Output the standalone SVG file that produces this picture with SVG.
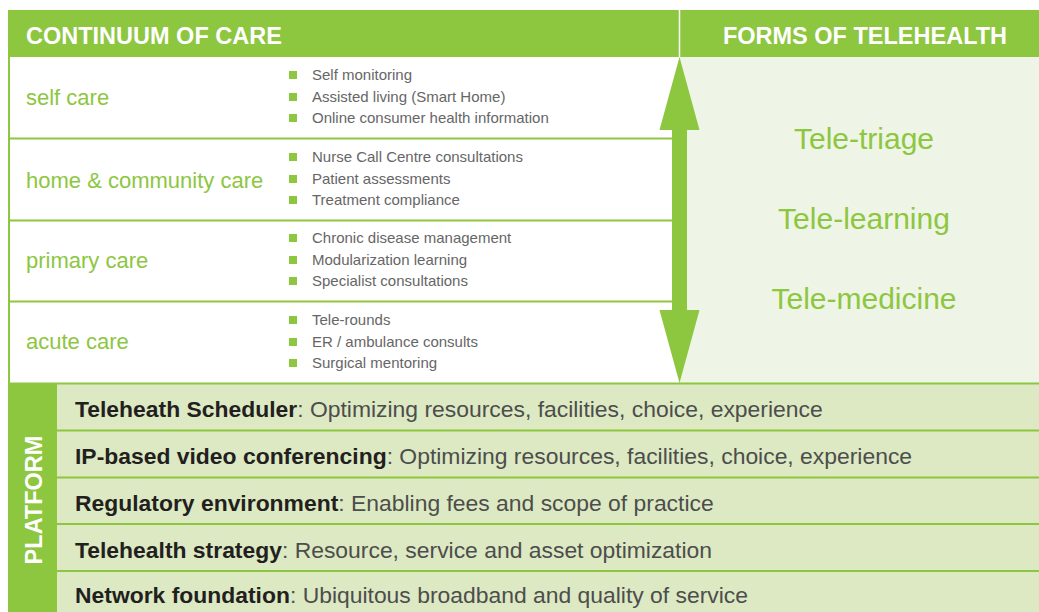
<svg xmlns="http://www.w3.org/2000/svg" width="1039" height="612" viewBox="0 0 1039 612">
<style>
.hdr{font-family:"Liberation Sans",Arial,sans-serif;font-weight:bold;font-size:23.5px;fill:#ffffff}
.lbl{font-family:"Liberation Sans",Arial,sans-serif;font-size:22px;fill:#8dc63f}
.itm{font-family:"Liberation Sans",Arial,sans-serif;font-size:15px;fill:#666666}
.bul{fill:#8dc63f}
.tele{font-family:"Liberation Sans",Arial,sans-serif;font-size:30px;fill:#8dc63f}
.sep{stroke:#8dc63f;stroke-width:2;fill:none}
.prow{fill:#dce9c2}
.pt{font-family:"Liberation Sans",Arial,sans-serif;font-size:22.9px;fill:#4d4d4d}
.pb{font-weight:bold;fill:#231f20}
</style>
<defs>
<rect id="sq" width="8" height="8" class="bul"/>
</defs>
<rect width="1039" height="612" fill="#ffffff"/>
<g id="header">
<rect x="8" y="10" width="1031" height="47" fill="#8dc63f"/>
<line x1="679.5" y1="10" x2="679.5" y2="57" stroke="#ffffff" stroke-width="1.5"/>
<text class="hdr" x="26" y="44">CONTINUUM OF CARE</text>
<text class="hdr" x="865" y="44" text-anchor="middle">FORMS OF TELEHEALTH</text>
</g>
<g id="panel-forms">
<rect x="679" y="57" width="360" height="326" fill="#eef5e6"/>
<text class="tele" x="864" y="149" text-anchor="middle">Tele-triage</text>
<text class="tele" x="864" y="229" text-anchor="middle">Tele-learning</text>
<text class="tele" x="864" y="309" text-anchor="middle">Tele-medicine</text>
</g>
<g id="continuum-frame">
<line class="sep" x1="9" y1="57" x2="9" y2="384"/>
<line class="sep" x1="9" y1="138.5" x2="672" y2="138.5"/>
<line class="sep" x1="9" y1="220.5" x2="672" y2="220.5"/>
<line class="sep" x1="9" y1="301.5" x2="672" y2="301.5"/>
</g>
<g id="self-care">
<text class="lbl" x="26" y="105">self care</text>
<use href="#sq" x="289" y="71"/><text class="itm" x="312" y="80">Self monitoring</text>
<use href="#sq" x="289" y="93"/><text class="itm" x="312" y="102">Assisted living (Smart Home)</text>
<use href="#sq" x="289" y="114"/><text class="itm" x="312" y="123">Online consumer health information</text>
</g>
<g id="home-community-care">
<text class="lbl" x="26" y="188">home &amp; community care</text>
<use href="#sq" x="289" y="153"/><text class="itm" x="312" y="162">Nurse Call Centre consultations</text>
<use href="#sq" x="289" y="175"/><text class="itm" x="312" y="184">Patient assessments</text>
<use href="#sq" x="289" y="196"/><text class="itm" x="312" y="205">Treatment compliance</text>
</g>
<g id="primary-care">
<text class="lbl" x="26" y="268">primary care</text>
<use href="#sq" x="289" y="234"/><text class="itm" x="312" y="243">Chronic disease management</text>
<use href="#sq" x="289" y="256"/><text class="itm" x="312" y="265">Modularization learning</text>
<use href="#sq" x="289" y="277"/><text class="itm" x="312" y="286">Specialist consultations</text>
</g>
<g id="acute-care">
<text class="lbl" x="26" y="349">acute care</text>
<use href="#sq" x="289" y="316"/><text class="itm" x="312" y="325">Tele-rounds</text>
<use href="#sq" x="289" y="338"/><text class="itm" x="312" y="347">ER / ambulance consults</text>
<use href="#sq" x="289" y="359"/><text class="itm" x="312" y="368">Surgical mentoring</text>
</g>
<g id="connectors">
<polygon fill="#8dc63f" points="679.5,57 699.5,130 687,130 687,310 699.5,310 679.5,383 659.5,310 672,310 672,130 659.5,130"/>
</g>
<g id="platform">
<rect x="8" y="383" width="49" height="229" fill="#8dc63f"/>
<text class="hdr" font-size="22.5" transform="translate(41.5,500) rotate(-90)" text-anchor="middle">PLATFORM</text>
<rect class="prow" x="57" y="384" width="982" height="228"/>
<line class="sep" x1="8" y1="383.5" x2="1039" y2="383.5"/>
<line class="sep" x1="57" y1="430.5" x2="1039" y2="430.5"/>
<line class="sep" x1="57" y1="477.5" x2="1039" y2="477.5"/>
<line class="sep" x1="57" y1="524" x2="1039" y2="524"/>
<line class="sep" x1="57" y1="571" x2="1039" y2="571"/>
</g>
<g id="platform-scheduler"><text class="pt" x="75" y="417"><tspan class="pb">Teleheath Scheduler</tspan>: Optimizing resources, facilities, choice, experience</text></g>
<g id="platform-video"><text class="pt" x="75" y="464"><tspan class="pb">IP-based video conferencing</tspan>: Optimizing resources, facilities, choice, experience</text></g>
<g id="platform-regulatory"><text class="pt" x="75" y="511"><tspan class="pb">Regulatory environment</tspan>: Enabling fees and scope of practice</text></g>
<g id="platform-strategy"><text class="pt" x="75" y="558"><tspan class="pb">Telehealth strategy</tspan>: Resource, service and asset optimization</text></g>
<g id="platform-network"><text class="pt" x="75" y="603"><tspan class="pb">Network foundation</tspan>: Ubiquitous broadband and quality of service</text></g>
</svg>
